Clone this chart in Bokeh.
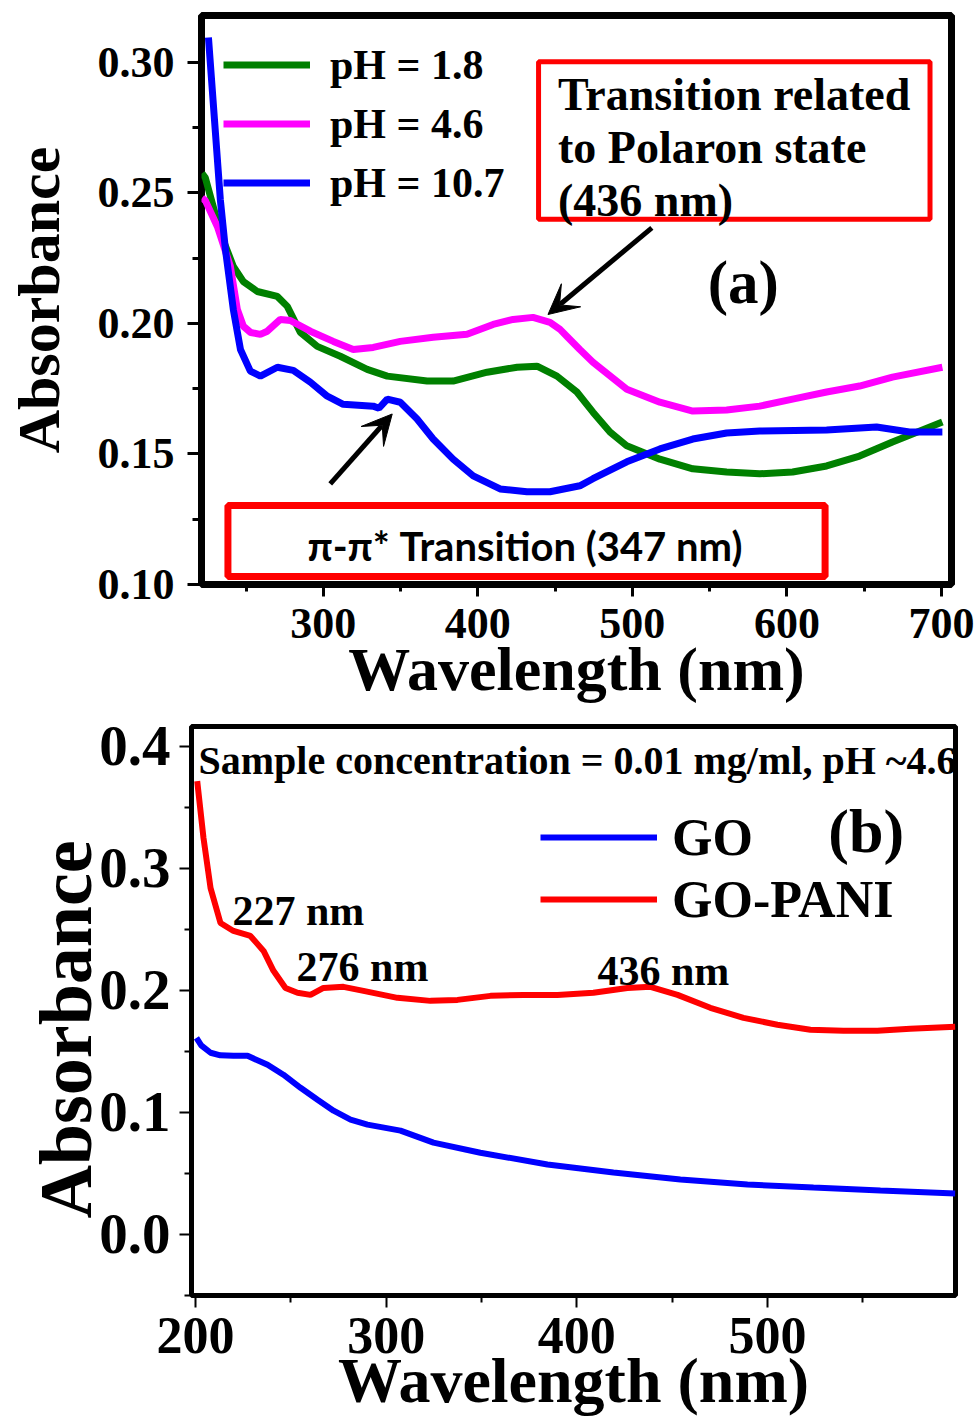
import math
from bokeh.plotting import figure
from bokeh.models import (Range1d, FixedTicker, PrintfTickFormatter, Legend, LegendItem,
                          Label, BoxAnnotation, Arrow, VeeHead)
from bokeh.layouts import column
from bokeh.embed import file_html
from bokeh.resources import INLINE

# ---------------- data: panel (a) ----------------
wl_ph18 = [221.5, 223.7, 233.4, 241.8, 248.3, 257.3, 270.3, 276.7, 285.1, 296.1, 311.0, 328.4,
           341.4, 367.2, 384.0, 406.0, 425.4, 438.3, 451.2, 464.1, 474.5, 485.5, 496.4, 517.8,
           539.1, 561.0, 582.4, 603.7, 625.7, 647.0, 668.3, 700.6]
abs_ph18 = [0.2575, 0.2557, 0.2347, 0.2218, 0.2160, 0.2122, 0.2103, 0.2065, 0.1966, 0.1912, 0.1874,
            0.1824, 0.1798, 0.1779, 0.1779, 0.1813, 0.1832, 0.1836, 0.1798, 0.1737, 0.1660, 0.1584,
            0.1531, 0.1480, 0.1443, 0.1431, 0.1424, 0.1431, 0.1454, 0.1492, 0.1546, 0.1622]

wl_ph46 = [221.5, 223.7, 231.5, 239.9, 244.4, 248.3, 253.0, 259.3, 263.8, 272.2, 278.7, 291.6,
           306.5, 319.4, 332.3, 349.8, 371.1, 393.0, 409.9, 422.8, 435.7, 446.7, 453.2, 457.7,
           466.0, 474.5, 496.4, 517.8, 539.1, 561.0, 582.4, 603.7, 625.7, 647.0, 668.3, 700.6]
abs_ph46 = [0.2480, 0.2470, 0.2370, 0.2218, 0.2053, 0.1989, 0.1965, 0.1958, 0.1970, 0.2015, 0.2011,
            0.1970, 0.1931, 0.1900, 0.1908, 0.1931, 0.1947, 0.1958, 0.1996, 0.2015, 0.2023, 0.2004,
            0.1977, 0.1950, 0.1900, 0.1851, 0.1748, 0.1698, 0.1664, 0.1668, 0.1683, 0.1710, 0.1737,
            0.1760, 0.1794, 0.1832]

wl_ph107 = [225.7, 233.4, 236.7, 241.8, 246.4, 252.8, 259.3, 270.3, 280.6, 291.6, 302.6, 312.9,
            332.3, 336.0, 341.4, 349.8, 360.7, 371.1, 384.0, 397.0, 414.4, 431.8, 446.7, 466.0,
            474.5, 496.4, 517.8, 539.1, 561.0, 582.4, 625.7, 658.0, 679.3, 700.6]
abs_ph107 = [0.3095, 0.2473, 0.2282, 0.2053, 0.1900, 0.1817, 0.1798, 0.1832, 0.1820, 0.1775, 0.1721,
             0.1690, 0.1683, 0.1675, 0.1710, 0.1698, 0.1634, 0.1557, 0.1480, 0.1416, 0.1366, 0.1355,
             0.1355, 0.1378, 0.1405, 0.1470, 0.1519, 0.1557, 0.1580, 0.1588, 0.1592, 0.1603, 0.1584,
             0.1584]

labels_a = ["pH = 1.8", "pH = 4.6", "pH = 10.7"]
xticks_a = [300, 400, 500, 600, 700]
xminor_a = [250, 350, 450, 550, 650]
yticks_a = [0.10, 0.15, 0.20, 0.25, 0.30]
yminor_a = [0.125, 0.175, 0.225, 0.275]

# ---------------- data: panel (b) ----------------
wl_gopani = [200.9, 204.2, 207.9, 213.1, 219.9, 228.8, 235.7, 240.9, 247.2, 253.5, 260.3, 267.1,
             277.6, 288.1, 305.9, 323.2, 337.4, 354.7, 372.0, 389.8, 408.7, 426.5, 438.6, 452.8,
             470.0, 487.4, 505.2, 522.5, 539.8, 557.6, 574.9, 598.5]
abs_gopani = [0.3714, 0.3247, 0.2838, 0.2552, 0.2487, 0.2446, 0.2323, 0.2160, 0.2020, 0.1980, 0.1963,
              0.2020, 0.2029, 0.1996, 0.1939, 0.1914, 0.1922, 0.1955, 0.1963, 0.1963, 0.1980, 0.2020,
              0.2029, 0.1963, 0.1857, 0.1775, 0.1718, 0.1677, 0.1669, 0.1669, 0.1685, 0.1701]

wl_go = [200.5, 203.0, 207.9, 213.0, 219.9, 227.3, 237.8, 246.1, 255.1, 264.0, 272.4, 281.3, 290.2,
         307.5, 324.8, 349.4, 384.6, 419.2, 454.3, 489.5, 524.1, 559.2, 598.5]
abs_go = [0.1610, 0.1550, 0.1489, 0.1468, 0.1464, 0.1464, 0.1390, 0.1309, 0.1202, 0.1104, 0.1014,
          0.0941, 0.0900, 0.0851, 0.0753, 0.0670, 0.0573, 0.0507, 0.0450, 0.0409, 0.0384, 0.0360,
          0.0335]

labels_b = ["GO", "GO-PANI"]
xticks_b = [200, 300, 400, 500]
xminor_b = [250, 350, 450, 550]
yticks_b = [0.0, 0.1, 0.2, 0.3, 0.4]
yminor_b = [-0.05, 0.05, 0.15, 0.25, 0.35]

SERIF = "Liberation Serif"
SANS = "Lato"


def style_axes(p, xt, xm, yt, ym, xfmt, yfmt, xfs, yfs, xout, xmin_out, yout, ymin_out, tw):
    p.grid.visible = False
    p.xaxis.ticker = FixedTicker(ticks=xt, minor_ticks=xm)
    p.yaxis.ticker = FixedTicker(ticks=yt, minor_ticks=ym)
    p.xaxis.formatter = PrintfTickFormatter(format=xfmt)
    p.yaxis.formatter = PrintfTickFormatter(format=yfmt)
    for ax, fs, o, mo in ((p.xaxis, xfs, xout, xmin_out), (p.yaxis, yfs, yout, ymin_out)):
        ax.axis_line_color = None
        ax.major_tick_in = 0
        ax.minor_tick_in = 0
        ax.major_tick_out = o
        ax.minor_tick_out = mo
        ax.major_tick_line_width = tw
        ax.minor_tick_line_width = tw
        ax.major_tick_line_color = "black"
        ax.minor_tick_line_color = "black"
        ax.major_label_text_font = SERIF
        ax.major_label_text_font_style = "bold"
        ax.major_label_text_font_size = fs
        ax.major_label_text_color = "black"
        ax.axis_label_text_font = SERIF
        ax.axis_label_text_font_style = "bold"
        ax.axis_label_text_color = "black"


def note(p, x, y, text, size, font=SERIF, align="left"):
    p.add_layout(Label(x=x, y=y, text=text, text_font=font, text_font_size=size,
                       text_font_style="bold", text_align=align,
                       text_baseline="alphabetic", text_color="black"))


# ================= panel (a) =================
pa = figure(width=980, height=705, output_backend="svg", toolbar_location=None,
            x_range=Range1d(221.2, 706.5), y_range=Range1d(0.10, 0.3179),
            min_border_left=201, min_border_right=29, min_border_top=15, min_border_bottom=120,
            background_fill_color="white", border_fill_color="white")
pa.frame_align = False
pa.outline_line_color = "black"
pa.outline_line_width = 7
style_axes(pa, xticks_a, xminor_a, yticks_a, yminor_a, "%d", "%.2f", "44px", "44px", 12, 7, 14, 9, 3)
pa.xaxis.axis_label = "Wavelength (nm)"
pa.yaxis.axis_label = "Absorbance"
pa.xaxis.axis_label_text_font_size = "62px"
pa.yaxis.axis_label_text_font_size = "60px"
pa.xaxis.major_label_standoff = 12
pa.yaxis.major_label_standoff = 13
pa.xaxis.axis_label_standoff = -6
pa.yaxis.axis_label_standoff = 23

ra1 = pa.line(wl_ph18, abs_ph18, line_color="#008000", line_width=7)
ra2 = pa.line(wl_ph46, abs_ph46, line_color="#ff00ff", line_width=7)
ra3 = pa.line(wl_ph107, abs_ph107, line_color="#0000ff", line_width=7)

leg_a = Legend(items=[LegendItem(label=labels_a[0], renderers=[ra1]),
                      LegendItem(label=labels_a[1], renderers=[ra2]),
                      LegendItem(label=labels_a[2], renderers=[ra3])],
               location=(22, 372), glyph_width=87, glyph_height=59, label_height=59,
               spacing=0, padding=0, margin=0, label_standoff=20,
               border_line_color=None, background_fill_alpha=0,
               label_text_font=SERIF, label_text_font_size="42px", label_text_font_style="bold",
               label_text_color="black")
pa.add_layout(leg_a)

pa.add_layout(BoxAnnotation(left=439.3, right=692.6, bottom=0.2399, top=0.3002,
                            fill_color=None, fill_alpha=0, line_color="#ff0000", line_alpha=1.0,
                            line_width=5))
note(pa, 451.9, 0.2878, "Transition related", "46px")
note(pa, 451.9, 0.2672, "to Polaron state", "46px")
note(pa, 451.9, 0.2470, "(436 nm)", "46px")
note(pa, 548.8, 0.2157, "(a)", "61px")

pa.add_layout(BoxAnnotation(left=238.3, right=624.7, bottom=0.1031, top=0.1303,
                            fill_color=None, fill_alpha=0, line_color="#ff0000", line_alpha=1.0,
                            line_width=7))
note(pa, 430.5, 0.1149, "π-π* Transition (347 nm)", "40px", font=SANS, align="center")

pa.add_layout(Arrow(end=VeeHead(size=30, fill_color="black", line_color="black"),
                    x_start=512.6, y_start=0.2366, x_end=445.4, y_end=0.2034,
                    line_width=5, line_color="black"))
pa.add_layout(Arrow(end=VeeHead(size=30, fill_color="black", line_color="black"),
                    x_start=304.5, y_start=0.1385, x_end=344.6, y_end=0.1653,
                    line_width=5, line_color="black"))

# ================= panel (b) =================
pb = figure(width=980, height=713, output_backend="svg", toolbar_location=None,
            x_range=Range1d(197.9, 598.6), y_range=Range1d(-0.05, 0.4162),
            min_border_left=191, min_border_right=25, min_border_top=21, min_border_bottom=122,
            background_fill_color="white", border_fill_color="white")
pb.frame_align = False
pb.outline_line_color = "black"
pb.outline_line_width = 5
style_axes(pb, xticks_b, xminor_b, yticks_b, yminor_b, "%d", "%.1f", "52px", "57px", 12, 7, 12, 7, 2)
pb.xaxis.axis_label = "Wavelength (nm)"
pb.yaxis.axis_label = "Absorbance\u00a0\u00a0"
pb.xaxis.axis_label_text_font_size = "64px"
pb.yaxis.axis_label_text_font_size = "74px"
pb.xaxis.major_label_standoff = 10
pb.yaxis.major_label_standoff = 9
pb.xaxis.axis_label_standoff = -11
pb.yaxis.axis_label_standoff = -11

rb1 = pb.line(wl_go, abs_go, line_color="#0000ff", line_width=6)
rb2 = pb.line(wl_gopani, abs_gopani, line_color="#ff0000", line_width=6)

leg_b = Legend(items=[LegendItem(label=labels_b[0], renderers=[rb1]),
                      LegendItem(label=labels_b[1], renderers=[rb2])],
               location=(349, 365), glyph_width=117, glyph_height=62, label_height=62,
               spacing=0, padding=0, margin=0, label_standoff=15,
               border_line_color=None, background_fill_alpha=0,
               label_text_font=SERIF, label_text_font_size="52px", label_text_font_style="bold",
               label_text_color="black")
pb.add_layout(leg_b)

note(pb, 201.6, 0.3886, "Sample concentration = 0.01 mg/ml, pH ~4.6", "40px")
note(pb, 531.9, 0.3304, "(b)", "62px")
note(pb, 219.4, 0.2647, "227 nm", "42px")
note(pb, 253.0, 0.2192, "276 nm", "42px")
note(pb, 410.8, 0.2156, "436 nm", "42px")

layout = column(pa, pb, spacing=0)
open("out.html", "w").write(file_html(layout, INLINE))
